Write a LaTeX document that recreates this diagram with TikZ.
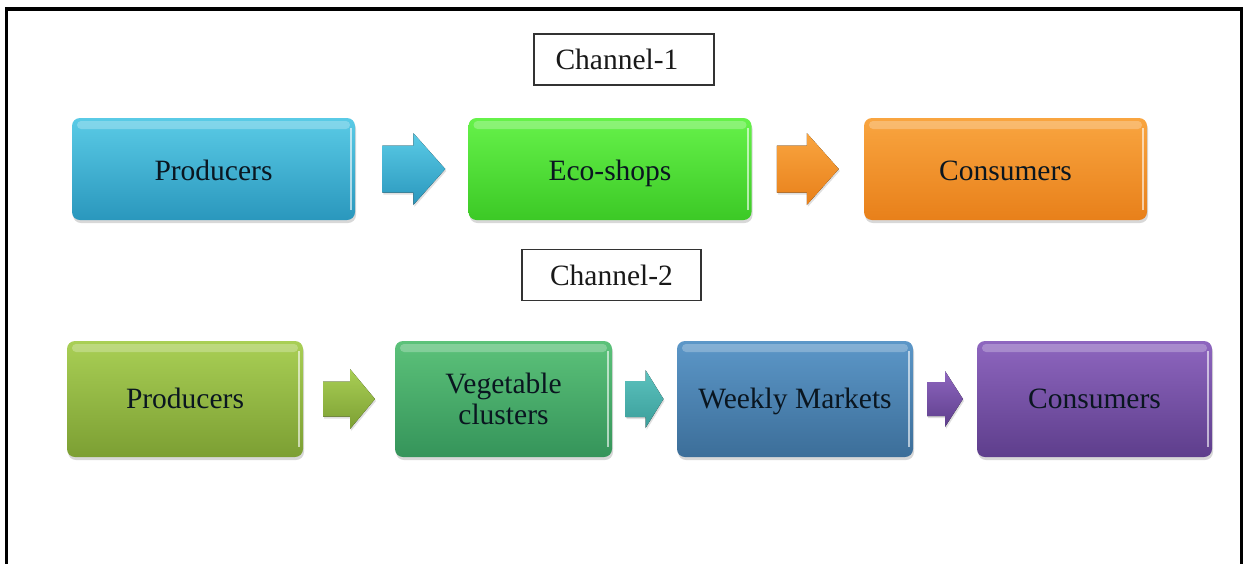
\documentclass[tikz,border=0pt]{standalone}
\usepackage{fontspec}
\setmainfont{Liberation Serif}
\usetikzlibrary{shadows,calc}
\definecolor{ctxt}{HTML}{0A1620}
\definecolor{cAt}{HTML}{5ACBE6}\definecolor{cAb}{HTML}{2A97BD}
\definecolor{cBt}{HTML}{66F24A}\definecolor{cBb}{HTML}{3CC926}
\definecolor{cCt}{HTML}{F9A540}\definecolor{cCb}{HTML}{E8801A}
\definecolor{cDt}{HTML}{A9CF55}\definecolor{cDb}{HTML}{7C9F33}
\definecolor{cEt}{HTML}{5CC27A}\definecolor{cEb}{HTML}{35945A}
\definecolor{cFt}{HTML}{5C97C8}\definecolor{cFb}{HTML}{3C6E99}
\definecolor{cGt}{HTML}{8E66BF}\definecolor{cGb}{HTML}{5E3E8C}
\definecolor{cHt}{HTML}{5CC2BE}\definecolor{cHb}{HTML}{3A9E9A}
\tikzset{
  glossbox/.style={rounded corners=8pt, inner sep=0pt, text=ctxt,
    font=\fontsize{29.5}{31}\selectfont, align=center,
    drop shadow={shadow xshift=1pt, shadow yshift=-3pt, opacity=0.3},
    path picture={
      \fill[white, opacity=0.25, rounded corners=4pt]
        ([xshift=5pt,yshift=-3pt]path picture bounding box.north west)
        rectangle ([xshift=-5pt,yshift=-11pt]path picture bounding box.north east);
      \draw[white, opacity=0.6, line width=2pt]
        ([xshift=-4pt,yshift=-10pt]path picture bounding box.north east)
        -- ([xshift=-4pt,yshift=10pt]path picture bounding box.south east);
    }},
  gc/.style 2 args={top color=#1, bottom color=#2},
  rowone/.style={glossbox, text height=24pt, text depth=2pt, minimum width=283pt, minimum height=102pt},
  rowtwo/.style={glossbox, minimum height=116pt},
  linetwo/.style={text height=22pt, text depth=4pt},
  chanbox/.style={draw=black!80, line width=1.2pt, fill=white, inner sep=0pt,
    minimum width=180pt, minimum height=51pt, text=black!90,
    font=\fontsize{29.5}{31}\selectfont},
  frameline/.style={line width=3.5pt, line cap=rect}
}
% #1 centre, #2 half length, #3 shaft half height, #4 head half height, #5 head length, #6 top colour, #7 bottom colour
\newcommand\blockarr[7]{%
  \fill[top color=#6, bottom color=#7,
        drop shadow={shadow xshift=1pt, shadow yshift=-2pt, opacity=0.25}]
    ($(#1)+({-#2},{-#3})$) -- ($(#1)+({#2-#5},{-#3})$) -- ($(#1)+({#2-#5},{-#4})$)
    -- ($(#1)+({#2},0)$) -- ($(#1)+({#2-#5},{#4})$) -- ($(#1)+({#2-#5},{#3})$)
    -- ($(#1)+({-#2},{#3})$) -- cycle;}
\begin{document}
\begin{tikzpicture}[x=1pt,y=-1pt]
\useasboundingbox (0,0) rectangle (1250,563);
\fill[white] (0,0) rectangle (1250,563);
% frame
\draw[frameline] (6.5,565) -- (6.5,9) -- (1241.5,9) -- (1241.5,565);
% channel labels
\node[chanbox] (ch1) at (624,59.5) {\hspace*{-14pt}Channel-1};
\node[chanbox, minimum width=179pt] (ch2) at (611.5,275) {Channel-2};
% row 1
\node[rowone, gc={cAt}{cAb}] (p1) at (213.5,169) {Producers};
\node[rowone, gc={cBt}{cBb}] (e1) at (610,169) {Eco-shops};
\node[rowone, gc={cCt}{cCb}] (c1) at (1005.5,169) {Consumers};
\coordinate (a1) at ($(p1.east)!0.5!(e1.west)+(2,0)$);
\coordinate (a2) at ($(e1.east)!0.5!(c1.west)$);
\blockarr{a1}{31.5}{23.5}{36}{32}{cAt}{cAb}
\blockarr{a2}{31}{23.5}{36}{32}{cCt}{cCb}
% row 2
\node[rowtwo, linetwo, gc={cDt}{cDb}, minimum width=236pt] (p2) at (185,399) {Producers};
\node[rowtwo, gc={cEt}{cEb}, minimum width=217pt] (v2) at (503.5,399) {Vegetable\\clusters};
\node[rowtwo, linetwo, gc={cFt}{cFb}, minimum width=236pt] (w2) at (795,399) {Weekly Markets};
\node[rowtwo, linetwo, gc={cGt}{cGb}, minimum width=235pt] (c2) at (1094.5,399) {Consumers};
\coordinate (b1) at ($(p2.east)!0.5!(v2.west)$);
\coordinate (b2) at ($(v2.east)!0.5!(w2.west)$);
\coordinate (b3) at ($(w2.east)!0.5!(c2.west)$);
\blockarr{b1}{26}{17.5}{30}{25}{cDt}{cDb}
\blockarr{b2}{19}{18}{29}{18}{cHt}{cHb}
\blockarr{b3}{18}{17}{28}{18}{cGt}{cGb}
\end{tikzpicture}
\end{document}
